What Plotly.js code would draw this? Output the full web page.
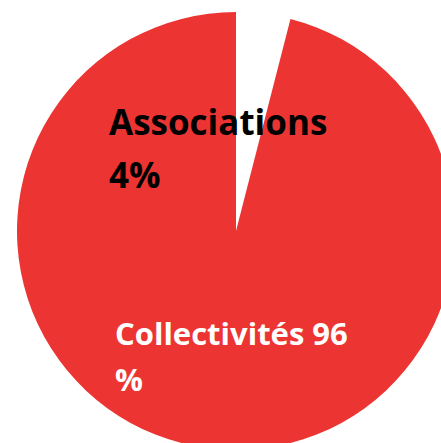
<!DOCTYPE html>
<html>
<head>
<meta charset="utf-8">
<script src="https://cdn.plot.ly/plotly-3.0.1.min.js"></script>
<style>
html, body { margin: 0; padding: 0; overflow: hidden; background: #ffffff; }
#chart { width: 480px; height: 460px; }
</style>
</head>
<body>
<div id="chart"></div>
<script>
const labels = ['Associations', 'Collectivités'];
const values = [4, 96];
const colors = ['#ffffff', '#EC3532'];

const W = 480, H = 460;
const px = (x) => x / W;
const py = (y) => 1 - y / H;

const trace = {
  type: 'pie',
  labels: labels,
  values: values,
  sort: false,
  direction: 'clockwise',
  rotation: 0,
  textinfo: 'none',
  hoverinfo: 'label+percent',
  marker: { colors: colors, line: { width: 0 } },
  domain: { x: [px(17), px(455)], y: [py(450), py(12)] },
  showlegend: false
};

const fam = '"Open Sans", "Noto Sans", sans-serif';
function ann(text, x, y, size, color) {
  return {
    xref: 'paper', yref: 'paper',
    x: px(x), y: py(y),
    xanchor: 'left', yanchor: 'top', align: 'left',
    showarrow: false,
    text: text,
    font: { family: fam, size: size, weight: 700, color: color }
  };
}

const layout = {
  width: W,
  height: H,
  margin: { l: 0, r: 0, t: 0, b: 0 },
  paper_bgcolor: '#ffffff',
  plot_bgcolor: '#ffffff',
  showlegend: false,
  annotations: [
    ann(labels[0], 107, 96, 35, '#000000'),
    ann(values[0] + '%', 107, 149, 35, '#000000'),
    ann(labels[1] + ' ' + values[1], 113, 310, 31, '#ffffff'),
    ann('%', 113, 356, 31, '#ffffff')
  ]
};

Plotly.newPlot('chart', [trace], layout, { displayModeBar: false, staticPlot: true });
</script>
</body>
</html>
